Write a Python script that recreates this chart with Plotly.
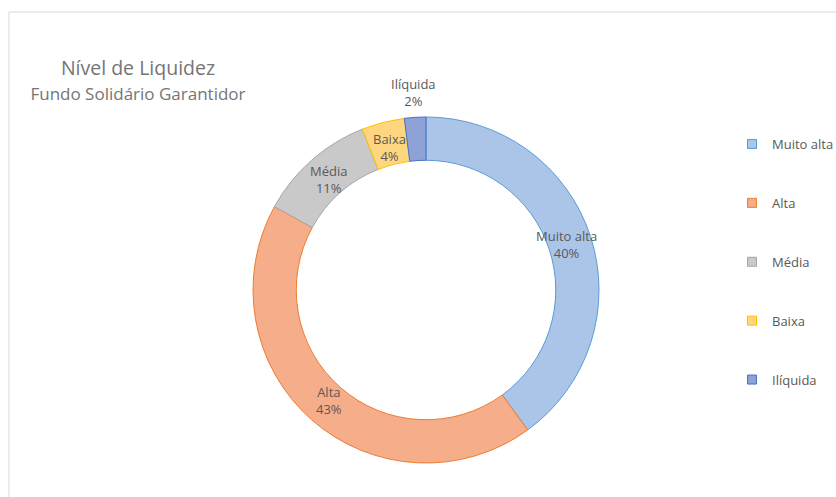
import math
import plotly.graph_objects as go

categories = ["Muito alta", "Alta", "Média", "Baixa", "Ilíquida"]
values = [40, 43, 11, 4, 2]
fill_colors = ["#abc5e9", "#f5ad8a", "#c9c9c9", "#ffd680", "#8fa2d8"]
line_colors = ["#5b9bd5", "#ed7d31", "#a5a5a5", "#ffc000", "#4472c4"]
label_outside = [False, False, False, False, True]

W, H = 836, 497
FONT = "Open Sans"
GRAY = "#595959"

# pie geometry (pixels)
CX, CY, R = 426, 290, 173
HOLE = 0.75

fig = go.Figure()
fig.add_trace(go.Pie(
    labels=categories,
    values=values,
    hole=HOLE,
    sort=False,
    direction="clockwise",
    rotation=0,
    marker=dict(colors=fill_colors, line=dict(color=line_colors, width=1)),
    textinfo="none",
    showlegend=False,
    domain=dict(x=[(CX - R) / W, (CX + R) / W], y=[1 - (CY + R) / H, 1 - (CY - R) / H]),
))

# data labels placed at the mid-angle of each slice (derived from values)
total = sum(values)
cum = 0
annotations = []
for cat, v, out in zip(categories, values, label_outside):
    mid = (cum + v / 2) / total * 2 * math.pi
    cum += v
    r = R + 25 if out else R * (1 + HOLE) / 2 - 4
    px = CX + r * math.sin(mid)
    py = CY - r * math.cos(mid)
    annotations.append(dict(
        x=px / W, y=1 - py / H, xref="paper", yref="paper",
        text=f"{cat}<br>{round(v / total * 100)}%",
        showarrow=False, xanchor="center", yanchor="middle",
        font=dict(family=FONT, size=13, color=GRAY),
    ))

for i, cat in enumerate(categories):
    fig.add_trace(go.Scatter(
        x=[None], y=[None], mode="markers", name=cat,
        legendgroup=cat,
        marker=dict(symbol="square", size=9, color=fill_colors[i],
                    line=dict(color=line_colors[i], width=1)),
    ))

fig.update_layout(
    width=W, height=H,
    margin=dict(l=0, r=0, t=0, b=0, autoexpand=False),
    paper_bgcolor="white", plot_bgcolor="white",
    xaxis=dict(visible=False), yaxis=dict(visible=False),
    title=dict(
        text="Nível de Liquidez<br><span style='font-size:17px'>Fundo Solidário Garantidor</span>",
        x=138 / W, xanchor="center", xref="paper",
        y=1 - 75 / H, yanchor="top", yref="container",
        font=dict(family=FONT, size=19.5, color="#757575"),
    ),
    legend=dict(
        x=732 / W, xanchor="left", y=1 - 129 / H, yanchor="top",
        font=dict(family=FONT, size=13, color=GRAY),
        tracegroupgap=39, itemwidth=30,
        bgcolor="rgba(0,0,0,0)",
    ),
    annotations=annotations,
    shapes=[dict(type="rect", xref="paper", yref="paper",
                 x0=9 / W, x1=1.2, y0=-0.2, y1=1 - 12 / H,
                 line=dict(color="#d9d9d9", width=1), fillcolor="rgba(0,0,0,0)")],
)

fig.write_html(
    "out.html",
    config={"displayModeBar": False},
    post_script="document.body.style.margin='0';document.body.style.overflow='hidden';",
)
